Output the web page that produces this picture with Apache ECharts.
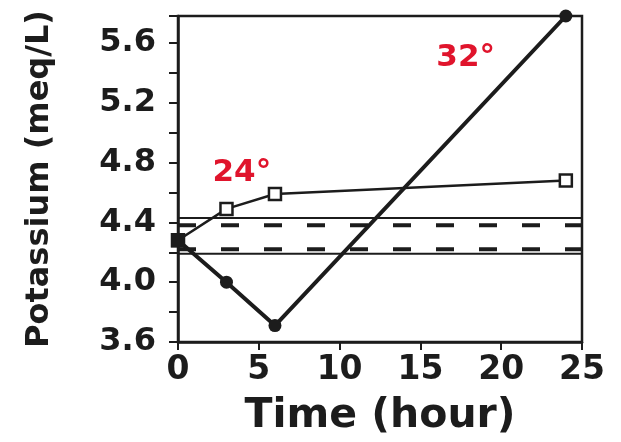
<!DOCTYPE html>
<html><head><meta charset="utf-8">
<script src="https://cdn.jsdelivr.net/npm/echarts@6/dist/echarts.min.js"></script>
<style>html,body{margin:0;padding:0;background:#fff}#c{width:621px;height:442px}</style>
</head><body><div id="c"></div>
<script>
var timeHours = [0, 3, 6, 24];
var potassium32 = [4.28, 4.0, 3.71, 5.78];
var potassium24 = [4.28, 4.49, 4.59, 4.68];
var xTickLabels = ['0', '5', '10', '15', '20', '25'];
var yTickLabels = ['3.6', '4.0', '4.4', '4.8', '5.2', '5.6'];
var solidRefLevels = [4.43, 4.19];
var dashedRefLevels = [4.38, 4.22];
var refSpan = [0, 25];
var seriesLabels = [{text: '24°', x: 3.95, y: 4.73}, {text: '32°', x: 17.8, y: 5.5}];

var ink = '#1c1c1c';
var red = '#e0142c';
var font = 'DejaVu Sans';

function pairs(xs, ys) { return xs.map(function (x, i) { return [x, ys[i]]; }); }

var series = [];
solidRefLevels.forEach(function (v) {
  series.push({type: 'line', data: refSpan.map(function (x) { return [x, v]; }), symbol: 'none',
    lineStyle: {color: ink, width: 2}, silent: true, z: 1});
});
dashedRefLevels.forEach(function (v) {
  series.push({type: 'line', data: refSpan.map(function (x) { return [x, v]; }), symbol: 'none',
    lineStyle: {color: ink, width: 4, type: [18, 25]}, silent: true, z: 1});
});
series.push({type: 'line', name: '24', data: pairs(timeHours, potassium24), symbol: 'rect', symbolSize: 12,
  clip: false, lineStyle: {color: ink, width: 2.5}, itemStyle: {color: '#fff', borderColor: ink, borderWidth: 2.5}, z: 3});
var d32 = pairs(timeHours, potassium32).map(function (p, i) {
  return i === 0 ? {value: p, symbol: 'rect', symbolSize: 14} : {value: p};
});
series.push({type: 'line', name: '32', data: d32, symbol: 'circle', symbolSize: 13, clip: false,
  lineStyle: {color: ink, width: 4}, itemStyle: {color: ink, borderWidth: 0}, z: 4});
series.push({type: 'scatter', data: seriesLabels.map(function (l) { return {value: [l.x, l.y], name: l.text}; }),
  symbolSize: 1, silent: true, z: 5, itemStyle: {opacity: 1, color: 'rgba(0,0,0,0)'},
  label: {show: true, position: 'inside', formatter: '{b}', color: red, opacity: 1, fontFamily: font, fontWeight: 'bold', fontSize: 31}});

var chart = echarts.init(document.getElementById('c'), null, {renderer: 'canvas'});
chart.setOption({
  animation: false,
  backgroundColor: '#fff',
  grid: {left: 178, right: 39, top: 16, bottom: 98, show: true, borderColor: ink, borderWidth: 2.5, backgroundColor: 'transparent'},
  xAxis: {type: 'value', min: 0, max: 25, interval: 5,
    name: 'Time (hour)', nameLocation: 'middle', nameGap: 54,
    nameTextStyle: {fontFamily: font, fontWeight: 'bold', fontSize: 41, color: ink},
    axisLine: {show: true, onZero: false, lineStyle: {color: ink, width: 2.5}},
    axisTick: {show: true, length: 8, lineStyle: {color: ink, width: 2}},
    axisLabel: {margin: 12, fontFamily: font, fontWeight: 'bold', fontSize: 33, color: ink,
      formatter: function (v) { var s = String(v); return xTickLabels.indexOf(s) >= 0 ? s : ''; }},
    splitLine: {show: false}},
  yAxis: {type: 'value', min: 3.6, max: 5.78, interval: 0.2,
    name: 'Potassium (meq/L)', nameLocation: 'middle', nameGap: 122,
    nameTextStyle: {fontFamily: font, fontWeight: 'bold', fontSize: 32, color: ink},
    axisLine: {show: true, lineStyle: {color: ink, width: 2.5}},
    axisTick: {show: true, length: 9, lineStyle: {color: ink, width: 2}},
    axisLabel: {margin: 22, fontFamily: font, fontWeight: 'bold', fontSize: 32, color: ink,
      formatter: function (v) { var s = v.toFixed(1); return (Math.abs(v * 10 - Math.round(v * 10)) < 1e-6 && yTickLabels.indexOf(s) >= 0) ? s : ''; }},
    splitLine: {show: false}},
  series: series
});
</script></body></html>
